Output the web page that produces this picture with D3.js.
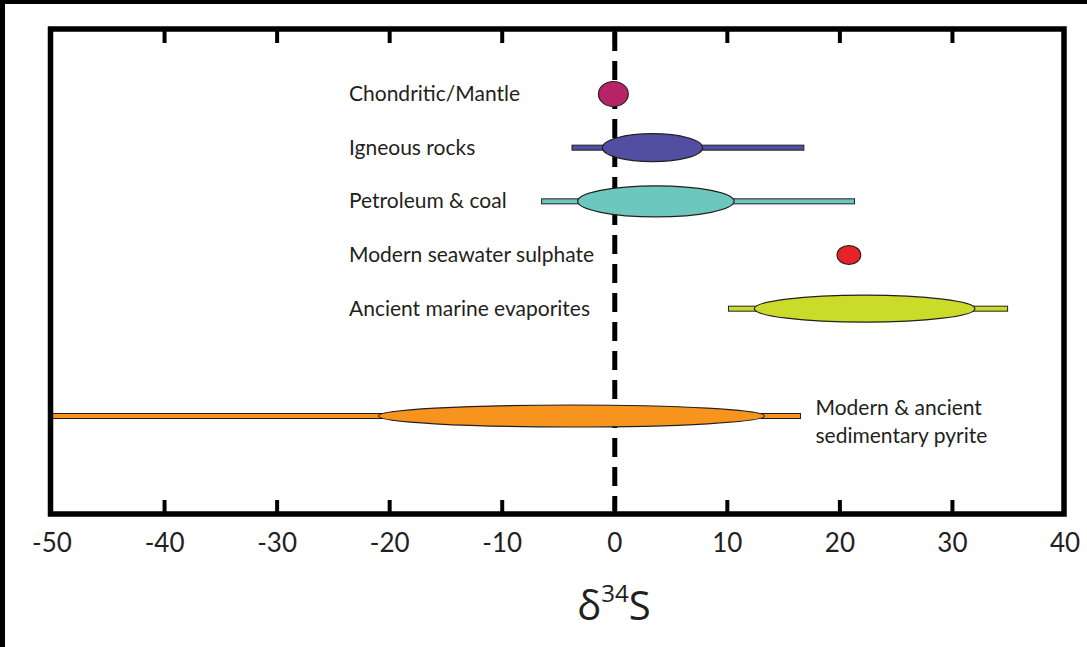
<!DOCTYPE html>
<html>
<head>
<meta charset="utf-8">
<script src="https://cdn.jsdelivr.net/npm/d3@7"></script>
<style>
  body { margin: 0; background: #fff; }
  #chart { width: 1087px; height: 647px; }
  text { fill: #231f20; font-family: Lato, "Open Sans", sans-serif; }
</style>
</head>
<body>
<div id="chart"></div>
<script>
// sulphur isotope ranges (delta 34S, per mil)

const categories = [
  "Chondritic/Mantle",
  "Igneous rocks",
  "Petroleum & coal",
  "Modern seawater sulphate",
  "Ancient marine evaporites",
  "Modern & ancient sedimentary pyrite"
];
const rangeMin = [null, -3.8, -6.5, null, 10.1, -50];
const rangeMax = [null, 16.8, 21.3, null, 34.9, 16.5];
const coreMin = [-1.45, -1.1, -3.3, 19.75, 12.4, -21.0];
const coreMax = [1.2, 7.8, 10.6, 21.85, 32.0, 13.3];
const xTicks = [-50, -40, -30, -20, -10, 0, 10, 20, 30, 40];

const colors = ["#b72466", "#524ea2", "#6cc7bd", "#e52329", "#cadb2a", "#f7941e"];
const bodyHalf = [12.5, 14, 15.5, 9.5, 13.5, 11];

const data = categories.map((c, i) => ({
  name: c,
  lo: rangeMin[i],
  hi: rangeMax[i],
  cLo: coreMin[i],
  cHi: coreMax[i],
  color: colors[i],
  ry: bodyHalf[i]
}));

const width = 1087;
const height = 647;
const frame = { left: 50.5, top: 29, right: 1064, bottom: 514 };

const svg = d3.select("#chart")
  .append("svg")
  .attr("width", width)
  .attr("height", height);

// dark band round the picture (top and left)
svg.append("rect").attr("x", 0).attr("y", 0).attr("width", width).attr("height", 4).attr("fill", "#000");
svg.append("rect").attr("x", 0).attr("y", 0).attr("width", 5).attr("height", height).attr("fill", "#000");

// scales

const x = d3.scaleLinear().domain([-50, 40]).range([frame.left + 1.5, frame.right + 1]);

// one empty slot between evaporites and pyrite
const rows = categories.slice(0, 5).concat(["gap"], categories.slice(5));
const y = d3.scalePoint().domain(rows).range([94, 416]);

// zero line

svg.append("line")
  .attr("x1", x(0)).attr("x2", x(0))
  .attr("y1", frame.top + 3).attr("y2", frame.bottom - 3)
  .attr("stroke", "#000")
  .attr("stroke-width", 5)
  .attr("stroke-dasharray", "19,10");

// ranges

const g = svg.append("g")
  .selectAll("g")
  .data(data)
  .join("g");

g.filter(d => d.lo !== null)
  .append("rect")
  .attr("x", d => x(d.lo))
  .attr("y", d => y(d.name) - 2.5)
  .attr("width", d => x(d.hi) - x(d.lo))
  .attr("height", 5)
  .attr("fill", d => d.color)
  .attr("stroke", "#231f20")
  .attr("stroke-width", 1);

g.append("ellipse")
  .attr("cx", d => (x(d.cLo) + x(d.cHi)) / 2)
  .attr("cy", d => y(d.name))
  .attr("rx", d => (x(d.cHi) - x(d.cLo)) / 2)
  .attr("ry", d => d.ry)
  .attr("fill", d => d.color)
  .attr("stroke", "#231f20")
  .attr("stroke-width", 1.2);

// labels

g.filter((d, i) => i < 5)
  .append("text")
  .attr("x", 349)
  .attr("y", d => y(d.name) + 7)
  .attr("font-size", 21)
  .text(d => d.name);

const last = data[5];
const pyrite = svg.append("text")
  .attr("x", x(last.hi) + 15)
  .attr("y", 415)
  .attr("font-size", 21);
pyrite.append("tspan").text("Modern & ancient");
pyrite.append("tspan").attr("x", x(last.hi) + 15).attr("dy", 28).text("sedimentary pyrite");

// frame and ticks

svg.append("rect")
  .attr("x", frame.left)
  .attr("y", frame.top)
  .attr("width", frame.right - frame.left)
  .attr("height", frame.bottom - frame.top)
  .attr("fill", "none")
  .attr("stroke", "#000")
  .attr("stroke-width", 5.5);

const inner = xTicks.slice(1, -1);
svg.append("g")
  .selectAll("line.top")
  .data(inner)
  .join("line")
  .attr("x1", d => x(d)).attr("x2", d => x(d))
  .attr("y1", frame.top).attr("y2", frame.top + 14)
  .attr("stroke", "#000").attr("stroke-width", 4);

svg.append("g")
  .selectAll("line.bottom")
  .data(inner)
  .join("line")
  .attr("x1", d => x(d)).attr("x2", d => x(d))
  .attr("y1", frame.bottom).attr("y2", frame.bottom - 14)
  .attr("stroke", "#000").attr("stroke-width", 4);

svg.append("g")
  .selectAll("text")
  .data(xTicks)
  .join("text")
  .attr("x", d => x(d))
  .attr("y", 552)
  .attr("text-anchor", "middle")
  .attr("font-size", 26)
  .text(d => d);

// axis title

const title = svg.append("text")
  .attr("x", 614)
  .attr("y", 620)
  .attr("text-anchor", "middle")
  .style("font-family", "'Open Sans', 'Noto Sans', sans-serif")
  .attr("font-size", 40);
title.append("tspan").text("δ");
title.append("tspan").attr("font-size", 24).attr("dy", -18).text("34");
title.append("tspan").attr("dy", 18).text("S");
</script>
</body>
</html>
